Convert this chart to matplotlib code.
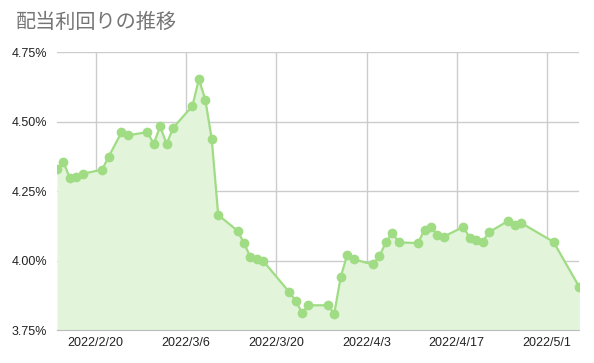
from datetime import date

import matplotlib
matplotlib.use("Agg")
import matplotlib.dates as mdates
import matplotlib.pyplot as plt
from matplotlib.ticker import FuncFormatter

dates = [
    "2022-02-14", "2022-02-15", "2022-02-16", "2022-02-17", "2022-02-18",
    "2022-02-21", "2022-02-22", "2022-02-24", "2022-02-25",
    "2022-02-28", "2022-03-01", "2022-03-02", "2022-03-03", "2022-03-04",
    "2022-03-07", "2022-03-08", "2022-03-09", "2022-03-10", "2022-03-11",
    "2022-03-14", "2022-03-15", "2022-03-16", "2022-03-17", "2022-03-18",
    "2022-03-22", "2022-03-23", "2022-03-24", "2022-03-25",
    "2022-03-28", "2022-03-29", "2022-03-30", "2022-03-31", "2022-04-01",
    "2022-04-04", "2022-04-05", "2022-04-06", "2022-04-07", "2022-04-08",
    "2022-04-11", "2022-04-12", "2022-04-13", "2022-04-14", "2022-04-15",
    "2022-04-18", "2022-04-19", "2022-04-20", "2022-04-21", "2022-04-22",
    "2022-04-25", "2022-04-26", "2022-04-27",
    "2022-05-02", "2022-05-06",
]
yields = [
    4.329, 4.354, 4.298, 4.300, 4.313,
    4.328, 4.374, 4.462, 4.451,
    4.463, 4.421, 4.484, 4.420, 4.478,
    4.557, 4.653, 4.580, 4.437, 4.165,
    4.108, 4.064, 4.013, 4.005, 3.999,
    3.888, 3.857, 3.813, 3.840,
    3.840, 3.810, 3.942, 4.021, 4.005,
    3.987, 4.017, 4.066, 4.101, 4.066,
    4.064, 4.112, 4.123, 4.093, 4.087,
    4.122, 4.083, 4.076, 4.068, 4.103,
    4.144, 4.130, 4.136,
    4.068, 3.906,
]
x_ticks = ["2022-02-20", "2022-03-06", "2022-03-20", "2022-04-03", "2022-04-17", "2022-05-01"]
y_ticks = [3.75, 4.00, 4.25, 4.50, 4.75]

plt.rcParams["font.family"] = ["Liberation Sans", "Noto Sans CJK JP", "DejaVu Sans"]

x = [date.fromisoformat(d) for d in dates]
xt = [date.fromisoformat(d) for d in x_ticks]

fig = plt.figure(figsize=(5.94, 3.63), dpi=100)
ax = fig.add_axes([57 / 594, 1 - 330.3 / 363, (579.3 - 57) / 594, (330.3 - 52.3) / 363])

line_color = "#9fdc84"
ax.fill_between(x, yields, y_ticks[0], color="#e2f4da", linewidth=0, zorder=1)
ax.plot(x, yields, color=line_color, linewidth=1.6, marker="o", markersize=7,
        markeredgewidth=0, zorder=3)

ax.set_xlim(x[0], x[-1])
ax.set_ylim(y_ticks[0], y_ticks[-1])
ax.set_xticks(xt)
ax.xaxis.set_major_formatter(FuncFormatter(
    lambda v, _: "{0}/{1}/{2}".format(*[getattr(mdates.num2date(v), a) for a in ("year", "month", "day")])))
ax.set_yticks(y_ticks)
ax.yaxis.set_major_formatter(FuncFormatter(lambda v, _: f"{v:.2f}%"))

ax.grid(True, color="#cccccc", linewidth=1, zorder=0)
ax.set_axisbelow(True)
for s in ("top", "right", "left"):
    ax.spines[s].set_visible(False)
ax.spines["bottom"].set_color("#bbbbbb")
ax.tick_params(length=0, labelsize=9, colors="#222222")
ax.tick_params(axis="x", pad=5)
ax.tick_params(axis="y", pad=7)

fig.text(16 / 594, 1 - 22 / 363, "配当利回りの推移", fontsize=14.5, color="#757575",
         va="center", ha="left", family=["Noto Sans CJK JP", "DejaVu Sans"])

fig.savefig("out.png", dpi=100)
